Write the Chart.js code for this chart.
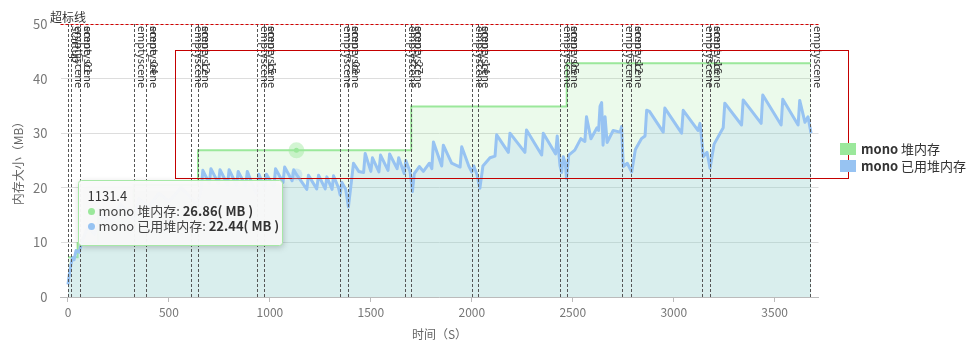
<!DOCTYPE html>
<html>
<head>
<meta charset="utf-8">
<script src="https://cdn.jsdelivr.net/npm/chart.js@4/dist/chart.umd.min.js"></script>
<style>
  html, body { margin: 0; padding: 0; background: #fff; }
  #wrap { width: 972px; height: 354px; position: relative; }
</style>
</head>
<body>
<div id="wrap"><canvas id="memChart"></canvas></div>
<script>
const FONT = '"Microsoft YaHei", "Noto Sans CJK SC", sans-serif';

const xTicks = [0, 500, 1000, 1500, 2000, 2500, 3000, 3500];

// mono 堆内存 (step line)
const heapTime = [0, 48, 150, 326, 644, 1131.4, 1700, 2470, 3680];
const heapMB   = [7.3, 9.9, 16, 20.5, 26.86, 26.86, 34.9, 42.8, 42.8];

// mono 已用堆内存
const usedTime = [
  0, 8, 15, 22, 30, 40, 55, 70, 100, 130, 170, 210, 260, 300, 330, 350, 400, 450, 500, 560,
  600, 640, 660, 668, 700, 708, 745, 753, 790, 798, 835, 843, 880, 888, 925, 936, 945, 975, 983, 1020,
  1028, 1065, 1073, 1110, 1118, 1131.4, 1150, 1183, 1191, 1232, 1241, 1274, 1282, 1308, 1315, 1340, 1348, 1356, 1375, 1389,
  1400, 1414, 1440, 1464, 1472, 1500, 1508, 1540, 1548, 1585, 1593, 1630, 1638, 1665, 1673, 1694, 1706, 1715, 1740, 1760,
  1790, 1802, 1810, 1851, 1859, 1900, 1942, 1950, 1985, 2000, 2010, 2025, 2040, 2055, 2090, 2115, 2123, 2181, 2189, 2263,
  2271, 2346, 2354, 2415, 2423, 2437, 2445, 2453, 2463, 2469, 2480, 2510, 2540, 2560, 2568, 2590, 2620, 2628, 2635, 2643,
  2650, 2660, 2670, 2700, 2735, 2742, 2750, 2770, 2792, 2810, 2840, 2858, 2866, 2880, 2948, 2956, 3039, 3047, 3120, 3130,
  3140, 3146, 3165, 3180, 3200, 3245, 3253, 3336, 3344, 3433, 3441, 3532, 3540, 3616, 3624, 3650, 3665, 3680
];
const usedMB = [
  2.3, 4.5, 6.0, 7.2, 6.8, 8.5, 8.2, 10.2, 13, 11.5, 15, 13.5, 17, 15.5, 14, 18, 16.5, 19, 17.5, 20,
  18.5, 17, 19.8, 23.2, 20.8, 23.5, 20.8, 23.3, 20.6, 23.3, 20.5, 23, 20.3, 23, 19.5, 18.8, 22.5, 19.8, 22.5, 20.2,
  23.5, 21, 23.8, 21.3, 23.3, 22.44, 21.5, 19.7, 22.3, 19.8, 22.3, 19.8, 22, 19.7, 22.2, 20, 18.7, 21, 19.8, 16.5,
  20, 24.5, 23, 22.8, 26.3, 23, 25.5, 22.9, 26, 23.2, 26.2, 23.5, 25.5, 22.6, 25, 23, 19.3, 22.6, 23.9, 23,
  24.5, 23.5, 28.4, 24, 27.8, 24.5, 23.8, 27.5, 24, 22.9, 24, 22.5, 19.9, 24, 25.5, 25.8, 29.7, 26.5, 30, 26.5,
  30.6, 26, 30, 26.2, 29.5, 24, 22.8, 25.7, 24.5, 21.7, 26, 26.9, 29, 28.5, 33, 29, 31, 30.5, 34.9, 35.6,
  27.8, 33, 28.3, 30.5, 30.2, 31.2, 23.9, 24.5, 22.9, 27, 29, 29.5, 34.2, 34, 30.2, 34.6, 30, 34.2, 30.5, 31.8,
  28.4, 25.7, 26.5, 23.6, 28, 31, 35.5, 31.5, 36.1, 31.8, 37, 31.5, 36.2, 31.5, 36, 32, 33, 30
];

// scene switch markers
const sceneTime = [0, 17, 62, 326, 387, 611, 644, 936, 969, 1348, 1386, 1670, 1700, 2000, 2033, 2437, 2470, 2746, 2787, 3141, 3181, 3677];
const sceneLabels = [
  ['startup'], ['emptyscene'], ['emptyscene', 'scene_01'],
  ['emptyscene'], ['emptyscene', 'scene_04'],
  ['emptyscene'], ['emptyscene', 'scene_12'],
  ['emptyscene'], ['emptyscene', 'scene_15'],
  ['emptyscene'], ['emptyscene', 'scene_08'],
  ['emptyscene'], ['emptyscene', 'scene_27'],
  ['emptyscene'], ['emptyscene', 'scene_14'],
  ['emptyscene'], ['emptyscene', 'scene_05'],
  ['emptyscene'], ['emptyscene', 'scene_12'],
  ['emptyscene'], ['emptyscene', 'scene_16'],
  ['emptyscene']
];

const limitMB = 50;
const limitLabel = '超标线';
const warnBox = [530, 3865, 21.8, 45.2]; // time from, time to, MB from, MB to
const hoverTime = 1131.4;

const GREEN = '#9be89b';
const BLUE = '#97c3f2';

const overlayPlugin = {
  id: 'overlay',
  afterDatasetsDraw(chart) {
    const { ctx, chartArea: a, scales: { x, y } } = chart;
    ctx.save();

    // scene markers
    ctx.strokeStyle = '#555';
    ctx.lineWidth = 1;
    ctx.setLineDash([3, 2]);
    sceneTime.forEach(t => {
      const px = Math.round(x.getPixelForValue(t)) + 0.5;
      ctx.beginPath();
      ctx.moveTo(px, a.top);
      ctx.lineTo(px, a.bottom);
      ctx.stroke();
    });
    ctx.setLineDash([]);
    ctx.fillStyle = '#333';
    ctx.font = '11px ' + FONT;
    ctx.textBaseline = 'middle';
    ctx.textAlign = 'left';
    sceneTime.forEach((t, i) => {
      const px = Math.round(x.getPixelForValue(t));
      sceneLabels[i].forEach(s => {
        ctx.save();
        ctx.translate(px + 8, a.top + 2);
        ctx.rotate(Math.PI / 2);
        ctx.fillText(s, 0, 0);
        ctx.restore();
      });
    });

    // limit line
    const ly = Math.round(y.getPixelForValue(limitMB)) + 0.5;
    ctx.strokeStyle = '#d40000';
    ctx.setLineDash([3, 2]);
    ctx.beginPath();
    ctx.moveTo(a.left, ly);
    ctx.lineTo(a.right, ly);
    ctx.stroke();
    ctx.setLineDash([]);
    ctx.font = '12px ' + FONT;
    ctx.textAlign = 'center';
    ctx.textBaseline = 'bottom';
    ctx.fillStyle = '#333';
    ctx.fillText(limitLabel, x.getPixelForValue(0), ly - 1);

    // warning box
    const bx0 = Math.round(x.getPixelForValue(warnBox[0])) + 0.5;
    const bx1 = Math.round(x.getPixelForValue(warnBox[1])) + 0.5;
    const by0 = Math.round(y.getPixelForValue(warnBox[3])) + 0.5;
    const by1 = Math.round(y.getPixelForValue(warnBox[2])) + 0.5;
    ctx.strokeStyle = '#c40000';
    ctx.lineWidth = 1;
    ctx.strokeRect(bx0, by0, bx1 - bx0, by1 - by0);

    // hover markers
    const hi = heapTime.indexOf(hoverTime);
    const ui = usedTime.indexOf(hoverTime);
    const hx = x.getPixelForValue(hoverTime);
    const gy = y.getPixelForValue(heapMB[hi]);
    const by = y.getPixelForValue(usedMB[ui]);
    ctx.fillStyle = 'rgba(155,232,155,0.45)';
    ctx.beginPath(); ctx.arc(hx, gy, 8, 0, Math.PI * 2); ctx.fill();
    ctx.fillStyle = GREEN;
    ctx.beginPath(); ctx.arc(hx, gy, 2.5, 0, Math.PI * 2); ctx.fill();
    ctx.fillStyle = 'rgba(153,197,242,0.35)';
    ctx.beginPath(); ctx.arc(hx, by, 6, 0, Math.PI * 2); ctx.fill();

    // tooltip
    const tx = Math.round(hx - 218) + 0.5;
    const ty = Math.round(gy + 30) + 0.5;
    const tw = 204, th = 65;
    ctx.save();
    ctx.shadowColor = 'rgba(0,0,0,0.22)';
    ctx.shadowBlur = 6;
    ctx.shadowOffsetX = 1;
    ctx.shadowOffsetY = 2;
    ctx.fillStyle = 'rgba(250,250,250,0.96)';
    ctx.beginPath();
    ctx.roundRect(tx, ty, tw, th, 3);
    ctx.fill();
    ctx.restore();
    ctx.strokeStyle = '#a6e8a6';
    ctx.beginPath();
    ctx.roundRect(tx, ty, tw, th, 3);
    ctx.stroke();

    ctx.textAlign = 'left';
    ctx.textBaseline = 'middle';
    ctx.fillStyle = '#333';
    ctx.font = '13px ' + FONT;
    ctx.fillText(String(hoverTime), tx + 9, ty + 16);
    const rows = [
      { color: GREEN, name: chart.data.datasets[1].label, val: heapMB[hi] },
      { color: BLUE, name: chart.data.datasets[0].label, val: usedMB[ui] }
    ];
    rows.forEach((r, k) => {
      const ry = ty + 31 + k * 15;
      ctx.fillStyle = r.color;
      ctx.beginPath(); ctx.arc(tx + 13, ry, 3.5, 0, Math.PI * 2); ctx.fill();
      ctx.fillStyle = '#444';
      ctx.font = '13px ' + FONT;
      const lead = r.name + ': ';
      ctx.fillText(lead, tx + 20, ry);
      const w = ctx.measureText(lead).width;
      ctx.font = 'bold 13px ' + FONT;
      ctx.fillStyle = '#333';
      ctx.fillText(r.val.toFixed(2) + '( MB )', tx + 20 + w, ry);
    });

    // legend
    const legendItems = [chart.data.datasets[1], chart.data.datasets[0]];
    legendItems.forEach((d, k) => {
      const ly2 = 143 + k * 17;
      ctx.fillStyle = d.legendColor;
      ctx.fillRect(840, ly2, 16, 12);
      const parts = d.label.split(' ');
      ctx.fillStyle = '#333';
      ctx.font = 'bold 13px ' + FONT;
      ctx.fillText(parts[0], 861, ly2 + 6);
      const w = ctx.measureText(parts[0] + ' ').width;
      ctx.font = '13px ' + FONT;
      ctx.fillText(parts.slice(1).join(' '), 861 + w, ly2 + 6);
    });

    ctx.restore();
  }
};

const ctx = document.getElementById('memChart').getContext('2d');

window.memChartInstance = new Chart(ctx, {
  type: 'line',
  data: {
    datasets: [
      {
        label: 'mono 已用堆内存',
        data: usedTime.map((t, i) => ({ x: t, y: usedMB[i] })),
        borderColor: BLUE,
        backgroundColor: 'rgba(151,195,242,0.22)',
        legendColor: BLUE,
        borderWidth: 3,
        borderJoinStyle: 'round',
        fill: 'origin',
        pointRadius: 0,
        tension: 0
      },
      {
        label: 'mono 堆内存',
        data: heapTime.map((t, i) => ({ x: t, y: heapMB[i] })),
        borderColor: GREEN,
        backgroundColor: 'rgba(155,232,155,0.2)',
        legendColor: GREEN,
        borderWidth: 2,
        stepped: true,
        fill: 'origin',
        pointRadius: 0
      }
    ]
  },
  options: {
    responsive: true,
    maintainAspectRatio: false,
    animation: false,
    layout: { padding: { top: 24, right: 153.5, left: 0, bottom: 0 } },
    plugins: {
      legend: { display: false },
      tooltip: { enabled: false }
    },
    scales: {
      x: {
        type: 'linear',
        min: -37,
        max: 3717,
        afterBuildTicks: s => { s.ticks = xTicks.map(v => ({ value: v })); },
        afterFit: s => { s.height = 57; },
        border: { display: true, color: '#bbb' },
        grid: { drawOnChartArea: false, drawTicks: true, tickLength: 5, color: '#bbb' },
        ticks: {
          padding: 3,
          color: '#777',
          font: { family: FONT, size: 12 },
          callback: v => String(v)
        },
        title: {
          display: true,
          text: '时间（S）',
          color: '#666',
          padding: { bottom: 12 },
          font: { family: FONT, size: 12 }
        }
      },
      y: {
        min: 0,
        max: 50,
        afterFit: s => { s.width = 60.5; },
        border: { display: false },
        grid: { color: '#ddd', drawTicks: false },
        ticks: {
          stepSize: 10,
          padding: 13,
          color: '#777',
          font: { family: FONT, size: 13 }
        },
        title: {
          display: true,
          text: '内存大小（MB）',
          color: '#666',
          padding: { top: 11 },
          font: { family: FONT, size: 12 }
        }
      }
    }
  },
  plugins: [overlayPlugin]
});
</script>
</body>
</html>
